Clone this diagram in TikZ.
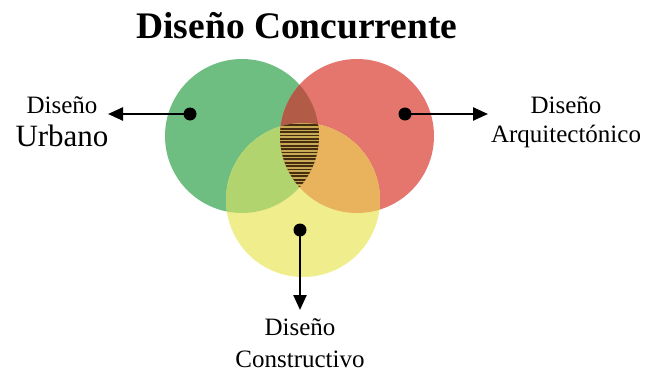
\documentclass[tikz,border=0pt]{standalone}
\usepackage{fontspec}
\setmainfont{Liberation Serif}
\usetikzlibrary{arrows.meta}
\definecolor{cgreen}{RGB}{110,190,130}
\definecolor{cred}{RGB}{228,118,110}
\definecolor{cyellow}{RGB}{240,238,140}
\definecolor{cgy}{RGB}{178,212,110}
\definecolor{cry}{RGB}{233,178,92}
\definecolor{cgr}{RGB}{178,92,72}
\definecolor{cstripe}{RGB}{70,45,15}
\definecolor{clight}{RGB}{200,170,85}
\tikzset{
  dot/.style={circle,fill=black,inner sep=0pt,minimum size=13pt},
  conn/.style={line width=2.4pt,-{Triangle[length=15pt,width=13pt]}},
  lbl/.style={anchor=base,font=\fontsize{25}{30}\selectfont,inner sep=0pt}
}
\begin{document}
\begin{tikzpicture}[x=1pt,y=-1pt]
\useasboundingbox (0,0) rectangle (649,372);
\fill[white] (0,0) rectangle (649,372);
\def\rr{77}
\coordinate (G) at (242,136);
\coordinate (R) at (357,136);
\coordinate (Y) at (303,200);
\fill[cgreen] (G) circle (\rr);
\fill[cred] (R) circle (\rr);
\fill[cyellow] (Y) circle (\rr);
\begin{scope}\clip (G) circle (\rr); \fill[cgy] (Y) circle (\rr);\end{scope}
\begin{scope}\clip (R) circle (\rr); \fill[cry] (Y) circle (\rr);\end{scope}
\begin{scope}\clip (R) circle (\rr); \fill[cgr] (G) circle (\rr);\end{scope}
\begin{scope}
  \clip (R) circle (\rr);
  \clip (G) circle (\rr);
  \clip (Y) circle (\rr);
  \fill[clight] (250,110) rectangle (350,200);
  \foreach \k in {0,...,26} {
    \fill[cstripe] (250,{121+3.4*\k}) rectangle (350,{122.8+3.4*\k});
  }
\end{scope}
\node[font=\bfseries\fontsize{37.5}{42}\selectfont,inner sep=0pt,anchor=base] (title) at (297,38) {Diseño Concurrente};
\node[dot] (dg) at (190,114) {};
\node[dot] (dr) at (405,114) {};
\node[dot] (dy) at (300,230) {};
\node[lbl] (lu1) at (62,113) {Diseño};
\node[lbl,font=\fontsize{31}{36}\selectfont] (lu2) at (62,146) {Urbano};
\node[lbl] (la1) at (566,113) {Diseño};
\node[lbl] (la2) at (566,142) {Arquitectónico};
\node[lbl] (lc1) at (300,335) {Diseño};
\node[lbl] (lc2) at (300,367) {Constructivo};
\coordinate (tu) at (108,114);
\coordinate (ta) at (488,114);
\coordinate (tc) at (300,310);
\draw[conn] (dg.center) -- (tu);
\draw[conn] (dr.center) -- (ta);
\draw[conn] (dy.center) -- (tc);
\end{tikzpicture}
\end{document}
